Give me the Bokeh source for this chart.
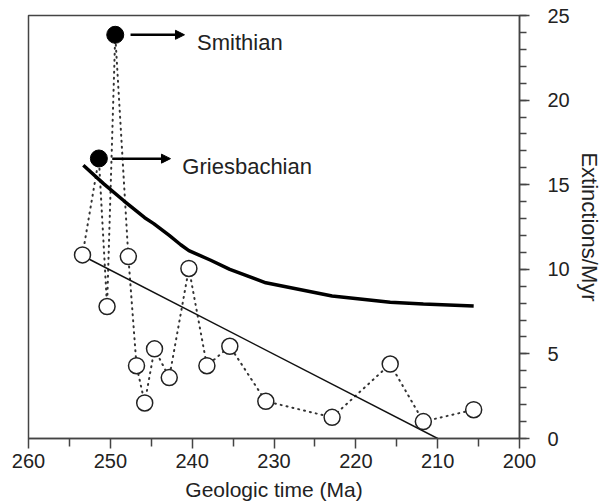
from bokeh.plotting import figure
from bokeh.models import Range1d, FixedTicker, Arrow, NormalHead, Label
from bokeh.embed import file_html
from bokeh.resources import INLINE

# ---- data ----
stage_ages = [253.4, 250.4, 247.8, 246.8, 245.8, 244.6, 242.8, 240.4, 238.2,
              235.4, 231.0, 222.9, 215.8, 211.75, 205.6]
stage_rates = [10.85, 7.8, 10.75, 4.3, 2.1, 5.3, 3.6, 10.05, 4.3,
               5.45, 2.2, 1.25, 4.4, 1.0, 1.7]

peak_names = ["Griesbachian", "Smithian"]
peak_ages = [251.4, 249.4]
peak_rates = [16.55, 23.86]

curve_ages = [253.3, 250.8, 248.35, 245.8, 244.7, 242.8, 241.4, 240.4, 237.8,
              235.4, 231.0, 222.9, 215.8, 211.75, 205.6]
curve_rates = [16.15, 15.05, 14.05, 13.05, 12.7, 12.0, 11.45, 11.1, 10.55,
               10.0, 9.2, 8.42, 8.05, 7.95, 7.83]

trend_ages = [253.4, 210.0]
trend_rates = [10.8, 0.0]

x_major = [260, 250, 240, 230, 220, 210, 200]
x_minor = [255, 245, 235, 225, 215, 205]
y_major = [0, 5, 10, 15, 20, 25]
y_minor = list(range(0, 26))

# combined chronological sequence for the dotted line
seq = sorted(list(zip(stage_ages, stage_rates)) + list(zip(peak_ages, peak_rates)),
             key=lambda t: -t[0])
seq_ages = [a for a, _ in seq]
seq_rates = [r for _, r in seq]

FONT = "Liberation Sans"
INK = "#222222"

p = figure(width=605, height=504, output_backend="svg", toolbar_location=None,
           x_range=Range1d(260, 200), y_range=Range1d(0, 25),
           x_axis_location="below", y_axis_location="right",
           min_border_left=28, min_border_top=15, min_border_right=86,
           min_border_bottom=66)
p.grid.visible = False
p.outline_line_color = "#444444"
p.outline_line_width = 1.5
p.background_fill_color = "white"
p.border_fill_color = "white"

xa = p.xaxis[0]
xa.ticker = FixedTicker(ticks=x_major, minor_ticks=x_minor)
xa.axis_label = "Geologic time (Ma)"
xa.major_tick_out = 10
xa.major_tick_in = 0
xa.minor_tick_out = 8
xa.minor_tick_in = 0
xa.major_label_standoff = 5
xa.axis_label_standoff = 7
xa.axis_label_text_line_height = 1.0
xa.major_label_text_line_height = 1.0

ya = p.yaxis[0]
ya.ticker = FixedTicker(ticks=y_major, minor_ticks=y_minor)
ya.axis_label = "Extinctions/Myr"
ya.major_tick_out = 10
ya.major_tick_in = 0
ya.minor_tick_out = 7
ya.minor_tick_in = 0
ya.major_label_standoff = 18
ya.axis_label_standoff = 4
ya.major_label_orientation = "horizontal"

for ax in (xa, ya):
    ax.axis_line_color = "#444444"
    ax.axis_line_width = 1.5
    ax.major_tick_line_color = "#444444"
    ax.major_tick_line_width = 1.5
    ax.minor_tick_line_color = "#444444"
    ax.minor_tick_line_width = 1.5
    ax.major_label_text_font = FONT
    ax.major_label_text_font_size = "20px"
    ax.major_label_text_color = INK
    ax.axis_label_text_font = FONT
    ax.axis_label_text_font_style = "normal"
    ax.axis_label_text_color = INK
xa.axis_label_text_font_size = "21px"
ya.axis_label_text_font_size = "22px"

# dotted connecting line
p.line(seq_ages, seq_rates, line_color="#333333", line_width=2,
       line_dash="1 5", line_cap="round")
# thin trend line
p.line(trend_ages, trend_rates, line_color="#111111", line_width=1.5)
# thick curve
p.line(curve_ages, curve_rates, line_color="black", line_width=3.5)

# open circles
p.scatter(stage_ages, stage_rates, size=16, fill_color="white",
          line_color="#222222", line_width=1.5)
# filled peaks
p.scatter(peak_ages, peak_rates, size=17, fill_color="black", line_color="black")

# arrows + labels
arrow_specs = [
    (249.77, 242.65, 16.54, 241.2, 16.09),
    (247.53, 240.94, 23.86, 239.4, 23.39),
]
for name, (xs, xe, ya_, tx, ty) in zip(peak_names, arrow_specs):
    p.add_layout(Arrow(end=NormalHead(size=9, fill_color="black", line_color="black"),
                       x_start=xs, y_start=ya_, x_end=xe, y_end=ya_,
                       line_color="black", line_width=2.5))
    p.add_layout(Label(x=tx, y=ty, text=name, text_font=FONT,
                       text_font_size="22px", text_color=INK,
                       text_baseline="alphabetic", text_align="left"))

open("out.html", "w").write(file_html(p, INLINE))
